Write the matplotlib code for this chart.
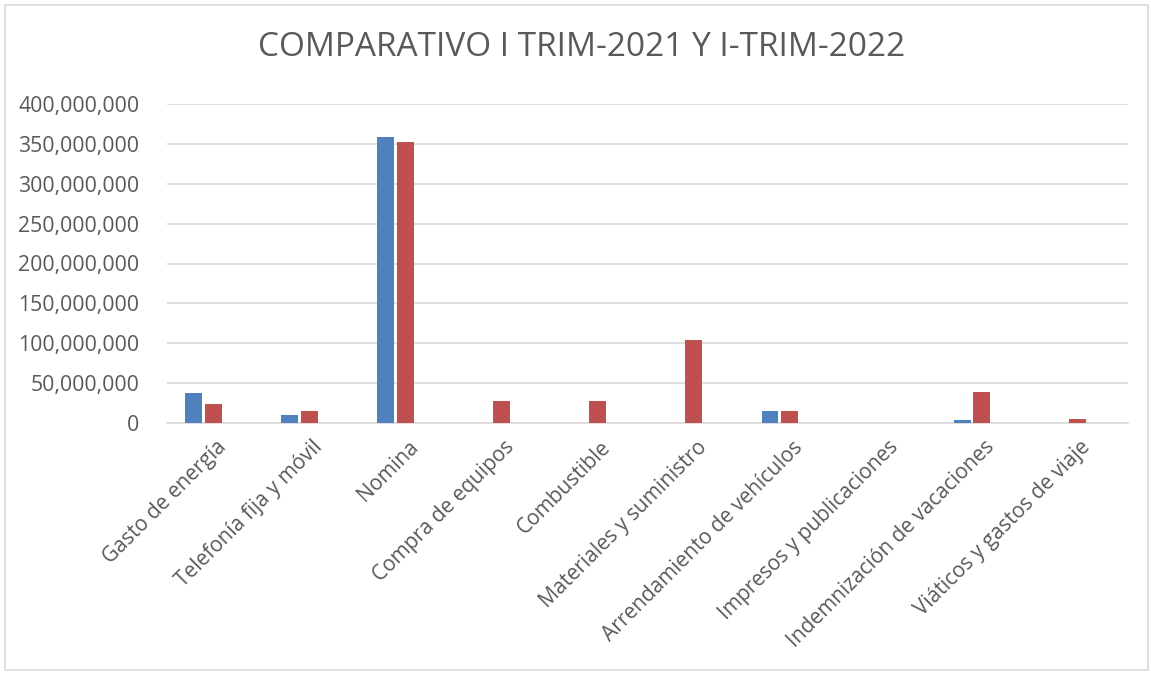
import matplotlib.pyplot as plt
import matplotlib.patches as mpatches
import matplotlib.transforms as mtransforms
from matplotlib.ticker import FuncFormatter, MultipleLocator
import numpy as np

categories = ["Gasto de energía", "Telefonía fija y móvil", "Nomina", "Compra de equipos",
              "Combustible", "Materiales y suministro", "Arrendamiento de vehículos",
              "Impresos y publicaciones", "Indemnización de vacaciones", "Viáticos y gastos de viaje"]
trim_2021 = [37000000, 9700000, 358500000, 0, 0, 0, 15500000, 0, 4200000, 0]
trim_2022 = [23500000, 15400000, 352000000, 27300000, 27300000, 103500000, 15500000, 0, 39400000, 5400000]

plt.rcParams['font.family'] = ['Open Sans', 'DejaVu Sans']
text_color = '#595959'

px = 1 / 100
fig = plt.figure(figsize=(1151 * px, 673 * px), dpi=100)
ax = fig.add_axes([167 / 1151, 1 - 423 / 673, (1128 - 167) / 1151, (423 - 104) / 673])

x = np.arange(len(categories))
w = 0.177
ax.bar(x - 0.104, trim_2021, w, color='#4F81BD', zorder=3)
ax.bar(x + 0.104, trim_2022, w, color='#C0504D', zorder=3)

ax.set_xlim(-0.385, 9.625)
ax.set_ylim(0, 400000000)
ax.yaxis.set_major_locator(MultipleLocator(50000000))
ax.yaxis.set_major_formatter(FuncFormatter(lambda v, p: f"{int(v):,}"))
ax.grid(axis='y', color='#D9D9D9', linewidth=1.2, zorder=0)
for s in ['top', 'right', 'left']:
    ax.spines[s].set_visible(False)
ax.spines['bottom'].set_color('#D9D9D9')
ax.spines['bottom'].set_linewidth(1.2)
ax.tick_params(axis='y', length=0, colors=text_color, labelsize=15.3, pad=20)
ax.set_xticks(x)
ax.set_xticklabels(categories, rotation=45, ha='right', rotation_mode='anchor')
ax.tick_params(axis='x', length=0, colors=text_color, labelsize=15, pad=10)
# shift the rotated labels a little right, like the original
offset = mtransforms.ScaledTranslation(12 / 100, 0, fig.dpi_scale_trans)
for lbl in ax.get_xticklabels():
    lbl.set_transform(lbl.get_transform() + offset)

fig.text(582 / 1151, 1 - 48 / 673, "COMPARATIVO I TRIM-2021 Y I-TRIM-2022",
         ha='center', va='center', fontsize=24, color=text_color)

fig.patches.append(mpatches.Rectangle((5 / 1151, 3 / 673), 1143 / 1151, 665 / 673,
                                      transform=fig.transFigure, fill=False,
                                      edgecolor='#D9D9D9', linewidth=1.2))

fig.savefig('out.png', dpi=100)
